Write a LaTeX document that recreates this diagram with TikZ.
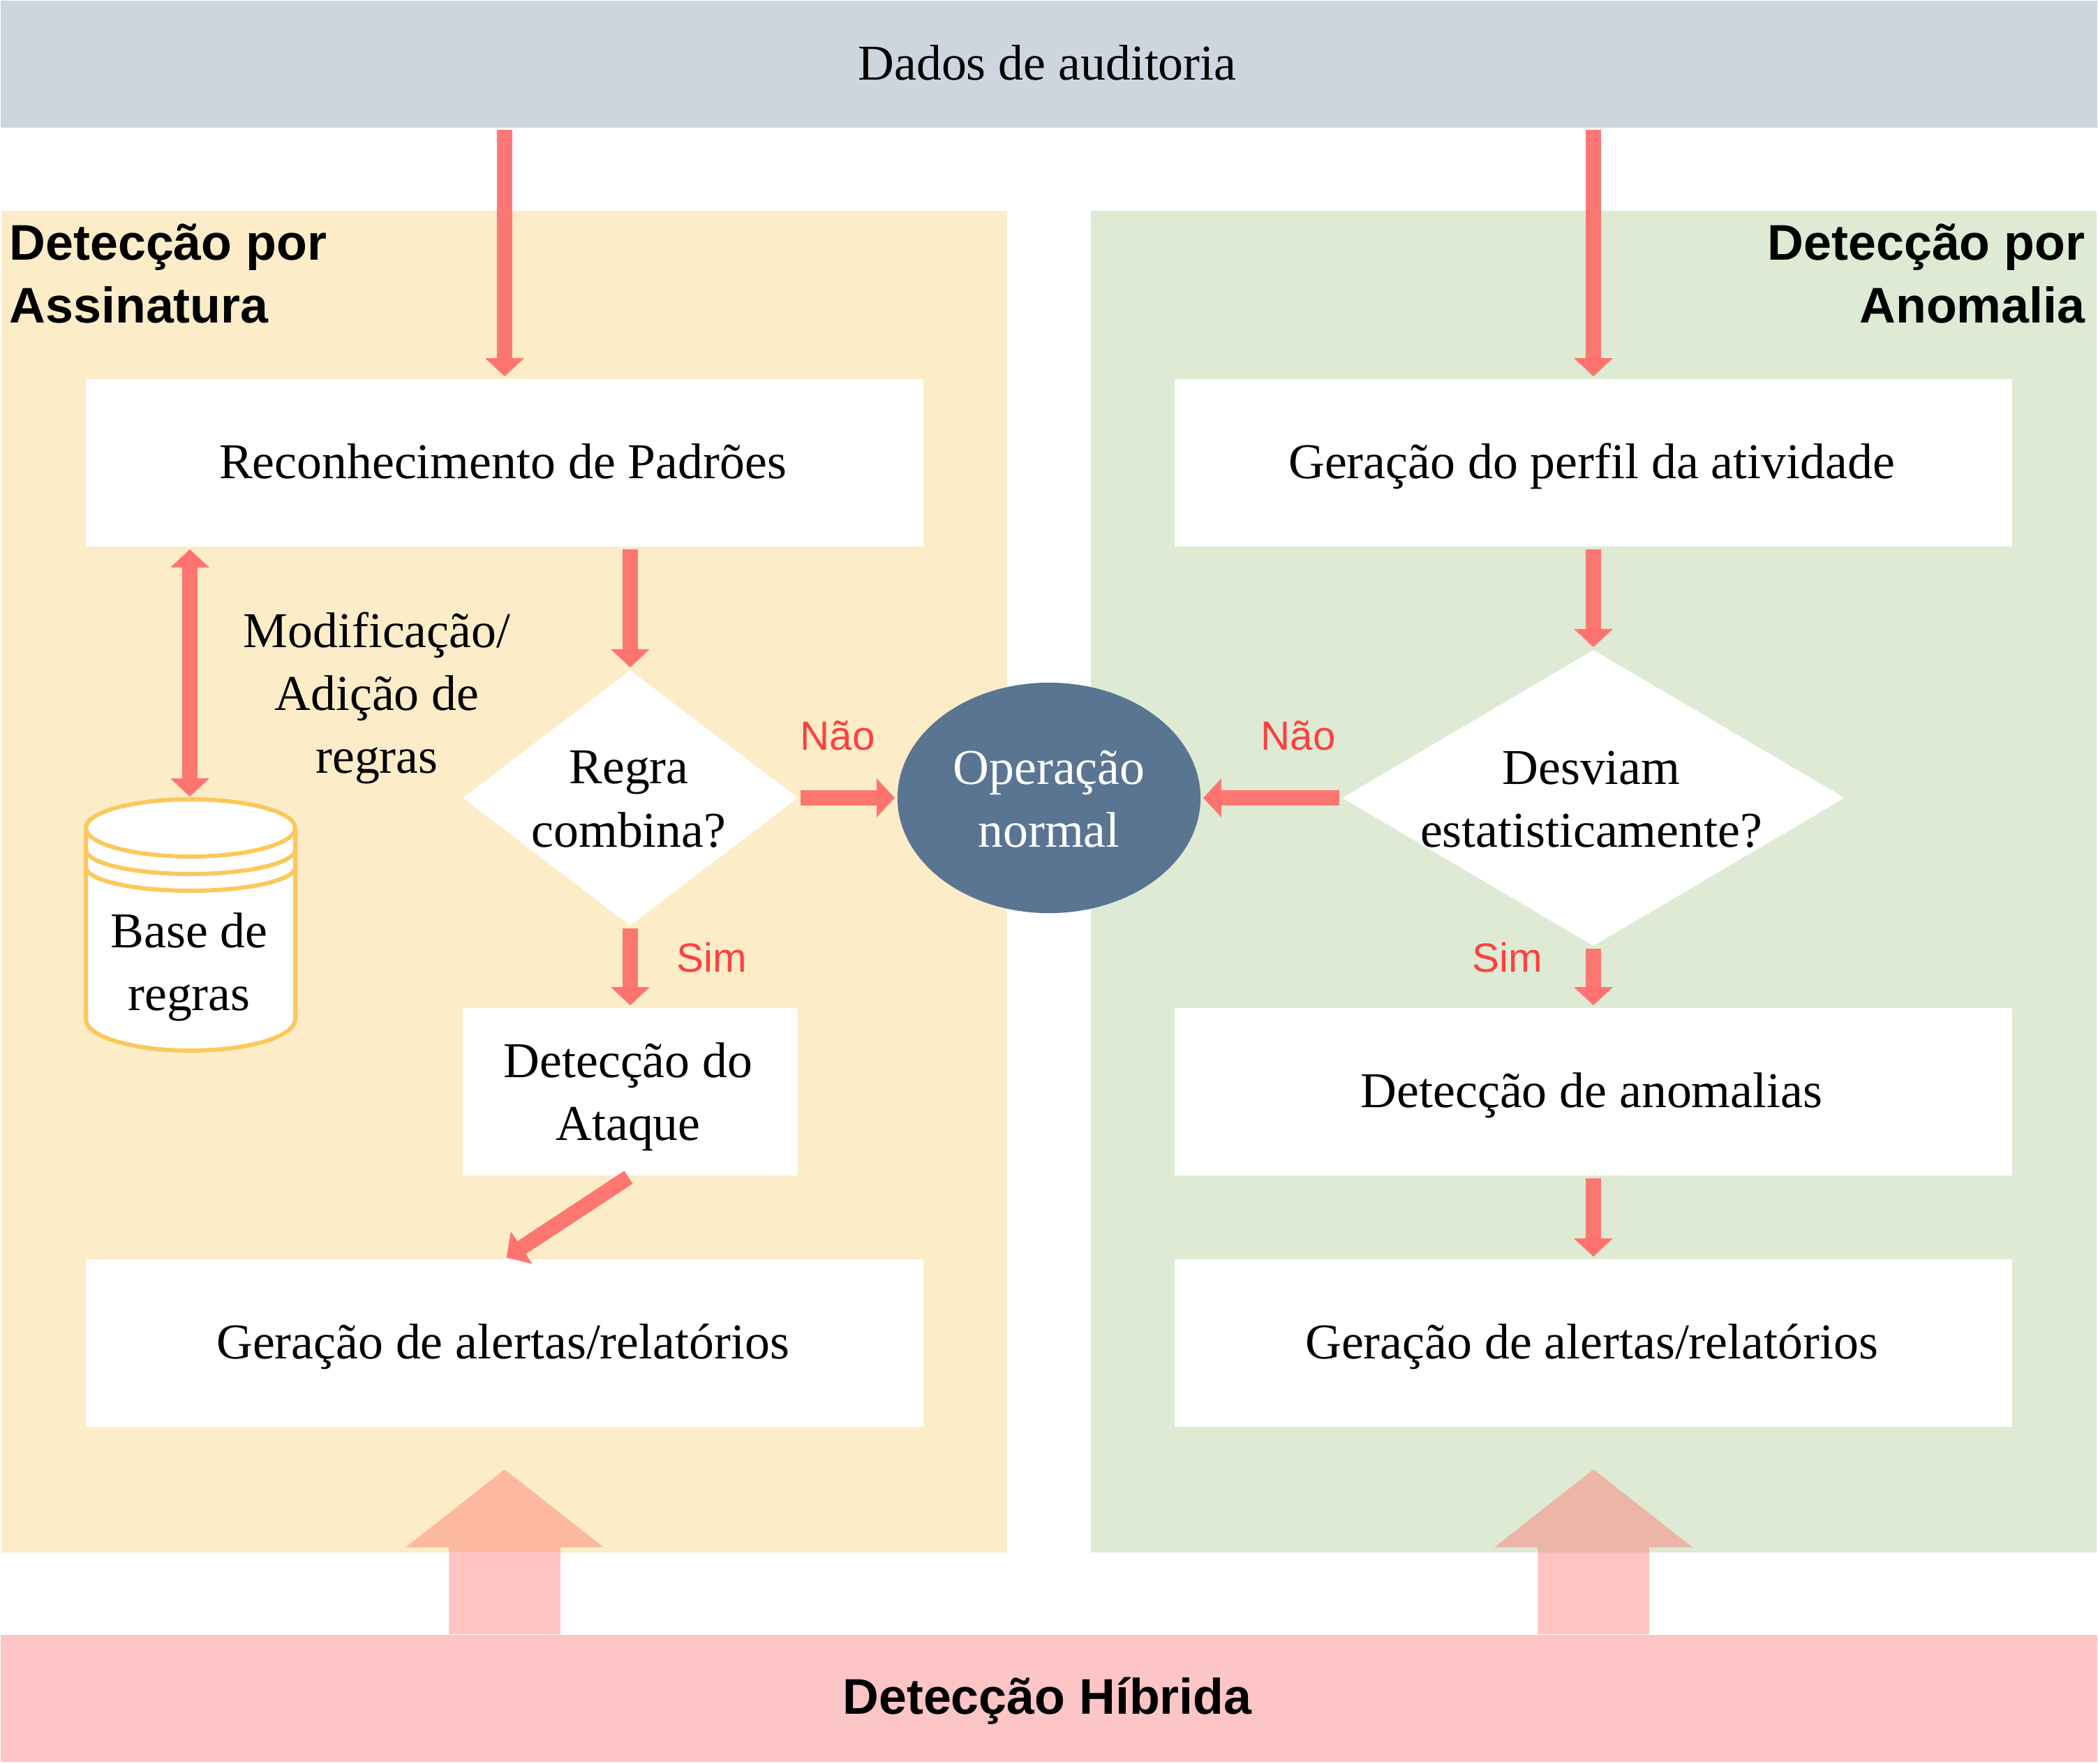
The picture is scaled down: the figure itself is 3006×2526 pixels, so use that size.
\documentclass[tikz,border=0pt]{standalone}
\usepackage{fontspec}
\setmainfont{Liberation Serif}
\setsansfont{Liberation Sans}
\usetikzlibrary{arrows.meta}
\usetikzlibrary{shapes.geometric}
\usetikzlibrary{shapes.arrows}
\definecolor{band_c}{HTML}{CDD5DF}
\definecolor{sig_c}{HTML}{FCEDC8}
\definecolor{anom_c}{HTML}{DEEAD3}
\definecolor{hyb_c}{HTML}{FDC5C6}
\definecolor{flow_c}{HTML}{FF706C}
\definecolor{db_c}{HTML}{FBC85A}
\definecolor{oval_c}{HTML}{5A7592}
\definecolor{lab_c}{HTML}{FF4040}
\tikzset{
  treetext/.style = {align=center, inner sep=0pt, text centered,
    font=\fontsize{20.4}{25.6}\selectfont},
  one_line/.style = {treetext, text height=0.55cm, text depth=0.1cm,
    execute at end node={\kern0.05cm}},% uma linha so
  head_t/.style = {treetext, font=\fontsize{20.4}{25.6}\selectfont\sffamily\bfseries},% titulos
  yes_no/.style = {treetext, text=lab_c, font=\fontsize{16.6}{20}\selectfont\sffamily},% Sim, Nao
  band_n/.style = {one_line, rectangle, minimum width=30.02cm, minimum height=1.81cm},
  panel_n/.style = {rectangle, inner sep=0pt, minimum width=14.41cm, minimum height=19.2cm},
  box_n/.style = {one_line, rectangle, fill=white, minimum width=12cm, minimum height=2.4cm},
  cond_n/.style = {diamond, fill=white, inner sep=0pt},
  db_n/.style = {rectangle, inner sep=0pt, minimum width=3cm, minimum height=3.6cm},
  db_lip/.style = {draw=db_c, line width=0.06cm},
  up_n/.style = {single arrow, rotate=90, anchor=west, fill=flow_c, opacity=0.42,
    inner xsep=0pt, inner ysep=0.79cm, minimum height=2.36cm, single arrow head extend=0.62cm,
    single arrow tip angle=103.6, single arrow head indent=0cm},
  flow/.style = {draw=flow_c, line width=0.22cm, opacity=0.95, shorten >=0.03cm, shorten <=0.03cm,
    -{Triangle[width=0.54cm,length=0.26cm]}},
  flow2/.style = {flow, {Triangle[width=0.54cm,length=0.26cm]}-{Triangle[width=0.54cm,length=0.26cm]}},
}
\begin{document}
\begin{tikzpicture}[x=0.01cm,y=-0.01cm]
\useasboundingbox (0,0) rectangle (3006,2526);

% paineis e faixas
\node [band_n, fill=band_c] (dados) at (1503,92) {Dados de auditoria};
\node [panel_n, fill=sig_c] (sig_p) at (722.5,1263) {};
\node [panel_n, fill=anom_c] (anom_p) at (2283.5,1263) {};
\node [band_n, fill=hyb_c, font=\fontsize{20.4}{25.6}\selectfont\sffamily\bfseries] (hibrida) at (1503,2433) {Detecção Híbrida};

\node [head_t, anchor=west, align=left] (sig_t) at (13,392) {Detecção por\\Assinatura};
\node [head_t, anchor=east, align=right] (anom_t) at (2988,392) {Detecção por\\Anomalia};

% lado esquerdo
\node [box_n] (padroes) at (723,663) {Reconhecimento de Padrões};
\node [cond_n, minimum width=4.8cm, minimum height=3.66cm] (regra) at (903,1143) {};
\node [treetext] (regra_t) at (901,1145) {Regra\\combina?};
\node [box_n, minimum width=4.8cm] (ataque) at (903,1564) {};
\node [treetext] (ataque_t) at (900,1571) {Detecção do\\Ataque};
\node [box_n] (alerta_l) at (723,1924) {Geração de alertas/relatórios};
\node [treetext] (modif) at (540,1000) {Modificação/\\Adição de\\regras};
\node [db_n] (base) at (272,1325) {};
\draw [db_lip, fill=white] (123,1186) arc [start angle=180, end angle=360, x radius=150, y radius=41]
  -- (423,1460) arc [start angle=0, end angle=180, x radius=150, y radius=45] -- cycle;
\draw [db_lip] (123,1186) arc [start angle=180, end angle=0, x radius=150, y radius=41];
\draw [db_lip] (123,1217) arc [start angle=180, end angle=0, x radius=150, y radius=35];
\draw [db_lip] (123,1242) arc [start angle=180, end angle=0, x radius=150, y radius=34];
\node [treetext] (base_t) at (271,1385) {Base de\\regras};

% lado direito
\node [box_n] (perfil) at (2283,663) {Geração do perfil da atividade};
\node [cond_n, minimum width=7.2cm, minimum height=4.24cm] (desvio) at (2283,1143) {};
\node [treetext] (desvio_t) at (2280,1145) {Desviam\\estatisticamente?};
\node [box_n] (anomal) at (2283,1564) {Detecção de anomalias};
\node [box_n] (alerta_r) at (2283,1924) {Geração de alertas/relatórios};

\node [ellipse, fill=oval_c, inner sep=0pt, minimum width=4.34cm, minimum height=3.3cm] (normal) at (1503,1143) {};
\node [treetext, text=white] (normal_t) at (1503,1145) {Operação\\normal};

% setas
\draw [flow] (dados.south -| padroes.north) -- (padroes.north);
\draw [flow] (dados.south -| perfil.north) -- (perfil.north);
\draw [flow] (padroes.south -| regra.north) -- (regra.north);
\draw [flow] (regra.south) -- (ataque.north);
\draw [flow] (ataque.south) -- (alerta_l.north);
\draw [flow2] (padroes.south -| base.north) -- (base.north);
\draw [flow] (regra.east) -- (normal.west);
\draw [flow] (desvio.west) -- (normal.east);
\draw [flow] (perfil.south) -- (desvio.north);
\draw [flow] (desvio.south) -- (anomal.north);
\draw [flow] (anomal.south) -- (alerta_r.north);

\node [yes_no] (nao_l) at (1200,1054) {Não};
\node [yes_no] (sim_l) at (1020,1372) {Sim};
\node [yes_no] (nao_r) at (1860,1054) {Não};
\node [yes_no] (sim_r) at (2160,1372) {Sim};

\node [up_n] (up_l) at (hibrida.north -| alerta_l.south) {};
\node [up_n] (up_r) at (hibrida.north -| alerta_r.south) {};
\end{tikzpicture}
\end{document}
